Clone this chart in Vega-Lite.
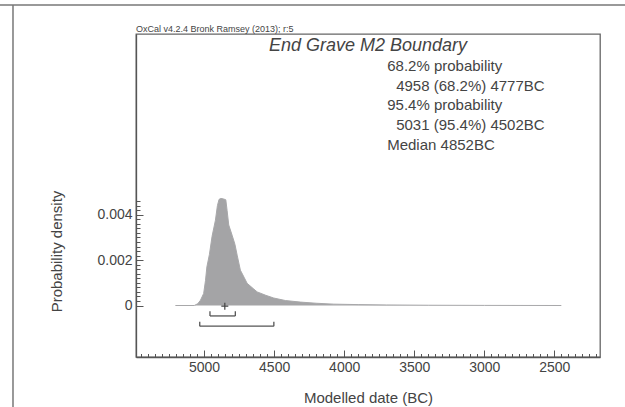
{
  "$schema": "https://vega.github.io/schema/vega-lite/v6.json",
  "autosize": {"type": "none"},
  "padding": {"left": 136, "top": 34, "right": 25, "bottom": 50},
  "width": 464,
  "height": 323,
  "background": "white",
  "config": {
    "view": {"stroke": "#666666", "strokeWidth": 1.3},
    "font": "Liberation Sans",
    "axis": {
      "domainColor": "#555555", "domainWidth": 1.3,
      "tickColor": "#555555", "tickWidth": 1,
      "labelFont": "Liberation Sans", "labelFontSize": 14, "labelColor": "#444444",
      "titleFont": "Liberation Sans", "titleFontSize": 15, "titleFontWeight": "normal", "titleColor": "#444444",
      "grid": false
    }
  },
  "resolve": {"axis": {"x": "independent", "y": "independent"}},
  "datasets": {
    "curve": [
      {"date": 5205, "density": 0},
      {"date": 5070, "density": 0},
      {"date": 5045, "density": 0.00008},
      {"date": 5026, "density": 0.00023},
      {"date": 5003, "density": 0.00053},
      {"date": 4990, "density": 0.0011},
      {"date": 4980, "density": 0.0017},
      {"date": 4962, "density": 0.00225},
      {"date": 4943, "density": 0.00305},
      {"date": 4919, "density": 0.00376},
      {"date": 4905, "density": 0.0044},
      {"date": 4893, "density": 0.00468},
      {"date": 4880, "density": 0.00472},
      {"date": 4862, "density": 0.0047},
      {"date": 4845, "density": 0.00466},
      {"date": 4836, "density": 0.0042},
      {"date": 4824, "density": 0.00355},
      {"date": 4800, "density": 0.0031},
      {"date": 4780, "density": 0.0027},
      {"date": 4764, "density": 0.00222},
      {"date": 4741, "density": 0.00156},
      {"date": 4715, "density": 0.00125},
      {"date": 4693, "density": 0.00098},
      {"date": 4650, "density": 0.00075},
      {"date": 4621, "density": 0.0006},
      {"date": 4560, "density": 0.00045},
      {"date": 4503, "density": 0.00033},
      {"date": 4420, "density": 0.00022},
      {"date": 4312, "density": 0.00015},
      {"date": 4200, "density": 0.0001},
      {"date": 4074, "density": 0.00006},
      {"date": 3900, "density": 0.00004},
      {"date": 3700, "density": 0.000025},
      {"date": 3400, "density": 0.000012},
      {"date": 3000, "density": 0.000005},
      {"date": 2450, "density": 0}
    ],
    "ranges": [
      {"level": "68.2%", "from": 4958, "to": 4777},
      {"level": "95.4%", "from": 5031, "to": 4502}
    ],
    "median": [{"median": 4852}],
    "labels": [
      {
        "name": "End Grave M2 Boundary",
        "p68": "68.2% probability",
        "r68": "4958 (68.2%) 4777BC",
        "p95": "95.4% probability",
        "r95": "5031 (95.4%) 4502BC",
        "med": "Median 4852BC",
        "credit": "OxCal v4.2.4 Bronk Ramsey (2013); r:5"
      }
    ]
  },
  "layer": [
    {
      "data": {"name": "curve"},
      "mark": {"type": "area", "color": "#a4a4a6", "opacity": 1},
      "encoding": {
        "x": {
          "field": "date", "type": "quantitative",
          "scale": {"domain": [2174, 5486], "reverse": true, "nice": false, "zero": false},
          "axis": {
            "orient": "bottom",
            "title": "Modelled date (BC)",
            "values": [5000, 4500, 4000, 3500, 3000, 2500],
            "format": "d",
            "tickSize": -7,
            "labelPadding": 10,
            "labelOverlap": false,
            "labelFlush": false,
            "titleY": 45,
            "titleBaseline": "alphabetic"
          }
        },
        "y": {
          "field": "density", "type": "quantitative",
          "scale": {"domain": [-0.00227, 0.01197], "nice": false, "zero": false},
          "axis": {
            "orient": "left",
            "title": "Probability density",
            "values": [0, 0.002, 0.004],
            "format": ".3~f",
            "tickSize": -7,
            "labelPadding": 11,
            "labelOverlap": false,
            "labelFlush": false,
            "titleX": -75,
            "titleY": 217,
            "titleAlign": "center",
            "titleBaseline": "alphabetic",
            "titleAngle": -90
          }
        }
      }
    },
    {
      "data": {"name": "curve"},
      "mark": {"type": "line", "color": "#a8a8aa", "strokeWidth": 1},
      "encoding": {
        "x": {
          "field": "date", "type": "quantitative",
          "axis": {
            "orient": "bottom",
            "title": null,
            "values": [5450,5400,5350,5300,5250,5200,5150,5100,5050,4950,4900,4850,4800,4750,4700,4650,4600,4550,4450,4400,4350,4300,4250,4200,4150,4100,4050,3950,3900,3850,3800,3750,3700,3650,3600,3550,3450,3400,3350,3300,3250,3200,3150,3100,3050,2950,2900,2850,2800,2750,2700,2650,2600,2550,2450,2400,2350,2300,2250,2200],
            "labels": false,
            "domain": false,
            "tickSize": -3.5
          }
        },
        "y": {
          "field": "density", "type": "quantitative",
          "axis": {
            "orient": "left",
            "title": null,
            "values": [0.0002,0.0004,0.0006,0.0008,0.001,0.0012,0.0014,0.0016,0.0018,0.0022,0.0024,0.0026,0.0028,0.003,0.0032,0.0034,0.0036,0.0038,0.0042,0.0044,0.0046],
            "labels": false,
            "domain": false,
            "tickSize": -4
          }
        }
      }
    },
    {
      "data": {"name": "ranges"},
      "transform": [{"filter": "datum.level === '68.2%'"}],
      "layer": [
        {
          "mark": {"type": "rule", "color": "#555555", "strokeWidth": 1.3},
          "encoding": {
            "x": {"field": "from", "type": "quantitative", "axis": null},
            "x2": {"field": "to"},
            "y": {"datum": -0.00046, "type": "quantitative", "axis": null}
          }
        },
        {
          "transform": [{"fold": ["from", "to"]}],
          "mark": {"type": "rule", "color": "#555555", "strokeWidth": 1.3},
          "encoding": {
            "x": {"field": "value", "type": "quantitative", "axis": null},
            "y": {"datum": -0.00046, "type": "quantitative", "axis": null},
            "y2": {"datum": -0.00025}
          }
        }
      ]
    },
    {
      "data": {"name": "ranges"},
      "transform": [{"filter": "datum.level === '95.4%'"}],
      "layer": [
        {
          "mark": {"type": "rule", "color": "#555555", "strokeWidth": 1.3},
          "encoding": {
            "x": {"field": "from", "type": "quantitative", "axis": null},
            "x2": {"field": "to"},
            "y": {"datum": -0.00091, "type": "quantitative", "axis": null}
          }
        },
        {
          "transform": [{"fold": ["from", "to"]}],
          "mark": {"type": "rule", "color": "#555555", "strokeWidth": 1.3},
          "encoding": {
            "x": {"field": "value", "type": "quantitative", "axis": null},
            "y": {"datum": -0.00091, "type": "quantitative", "axis": null},
            "y2": {"datum": -0.00072}
          }
        }
      ]
    },
    {
      "data": {"name": "median"},
      "mark": {"type": "point", "shape": "M-1,0H1M0,-1V1", "size": 49, "filled": false, "stroke": "#444444", "strokeWidth": 1.2, "opacity": 1},
      "encoding": {
        "x": {"field": "median", "type": "quantitative", "axis": null},
        "y": {"datum": -0.00003, "type": "quantitative", "axis": null}
      }
    },
    {
      "data": {"name": "labels"},
      "mark": {"type": "text", "font": "Liberation Sans", "fontSize": 18, "fontStyle": "italic", "color": "#444444", "align": "center", "baseline": "alphabetic"},
      "encoding": {
        "x": {"datum": 3830, "type": "quantitative", "axis": null},
        "y": {"datum": 0.01124, "type": "quantitative", "axis": null},
        "text": {"field": "name"}
      }
    },
    {
      "data": {"name": "labels"},
      "mark": {"type": "text", "font": "Liberation Sans", "fontSize": 15, "color": "#444444", "align": "left", "baseline": "alphabetic"},
      "encoding": {
        "x": {"datum": 3693, "type": "quantitative", "axis": null},
        "y": {"datum": 0.010346, "type": "quantitative", "axis": null},
        "text": {"field": "p68"}
      }
    },
    {
      "data": {"name": "labels"},
      "mark": {"type": "text", "font": "Liberation Sans", "fontSize": 15, "color": "#444444", "align": "left", "baseline": "alphabetic"},
      "encoding": {
        "x": {"datum": 3629, "type": "quantitative", "axis": null},
        "y": {"datum": 0.009477, "type": "quantitative", "axis": null},
        "text": {"field": "r68"}
      }
    },
    {
      "data": {"name": "labels"},
      "mark": {"type": "text", "font": "Liberation Sans", "fontSize": 15, "color": "#444444", "align": "left", "baseline": "alphabetic"},
      "encoding": {
        "x": {"datum": 3693, "type": "quantitative", "axis": null},
        "y": {"datum": 0.008609, "type": "quantitative", "axis": null},
        "text": {"field": "p95"}
      }
    },
    {
      "data": {"name": "labels"},
      "mark": {"type": "text", "font": "Liberation Sans", "fontSize": 15, "color": "#444444", "align": "left", "baseline": "alphabetic"},
      "encoding": {
        "x": {"datum": 3629, "type": "quantitative", "axis": null},
        "y": {"datum": 0.00774, "type": "quantitative", "axis": null},
        "text": {"field": "r95"}
      }
    },
    {
      "data": {"name": "labels"},
      "mark": {"type": "text", "font": "Liberation Sans", "fontSize": 15, "color": "#444444", "align": "left", "baseline": "alphabetic"},
      "encoding": {
        "x": {"datum": 3693, "type": "quantitative", "axis": null},
        "y": {"datum": 0.006871, "type": "quantitative", "axis": null},
        "text": {"field": "med"}
      }
    },
    {
      "data": {"name": "labels"},
      "mark": {"type": "text", "font": "Liberation Sans", "fontSize": 9, "color": "#444444", "align": "left", "baseline": "alphabetic"},
      "encoding": {
        "x": {"datum": 5486, "type": "quantitative", "axis": null},
        "y": {"datum": 0.012066, "type": "quantitative", "axis": null},
        "text": {"field": "credit"}
      }
    },
    {
      "data": {"values": [{}]},
      "mark": {"type": "rule", "color": "#777777", "strokeWidth": 1.5},
      "encoding": {
        "x": {"datum": 6500, "type": "quantitative", "axis": null},
        "x2": {"datum": 1900},
        "y": {"datum": 0.013244, "type": "quantitative", "axis": null}
      }
    },
    {
      "data": {"values": [{}]},
      "mark": {"type": "rule", "color": "#777777", "strokeWidth": 1.5},
      "encoding": {
        "x": {"datum": 6364, "type": "quantitative", "axis": null},
        "y": {"datum": 0.013244, "type": "quantitative", "axis": null},
        "y2": {"datum": -0.0052}
      }
    }
  ]
}
